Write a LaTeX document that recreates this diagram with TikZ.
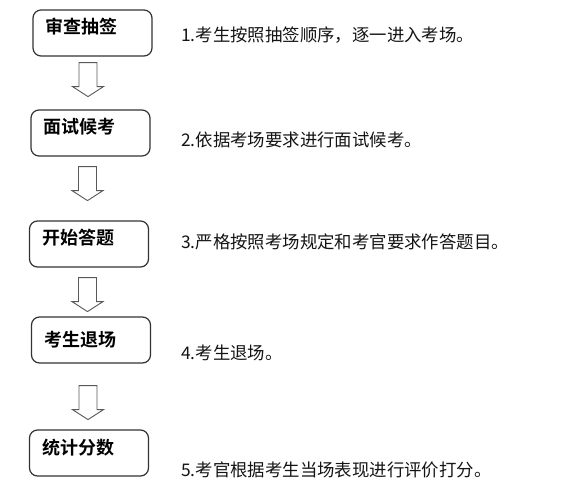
\documentclass[tikz,border=0pt]{standalone}
\usepackage{fontspec}
\newfontfamily\cjk{Noto Sans CJK SC}[BoldFont={Noto Sans CJK SC Bold}]

\begin{document}
\begin{tikzpicture}
[x=1pt,y=-1pt,
  boxDecorate/.style={shape=rectangle,rounded corners=8pt,draw=black!80,line width=1.2pt,minimum width=119pt,minimum height=46pt},%
  labelDecorate/.style={anchor=west,inner sep=0pt,font=\cjk\bfseries\fontsize{18}{20}\selectfont},%
  noteDecorate/.style={anchor=west,inner sep=0pt,text=black!92,font=\cjk\fontsize{17.4}{20}\selectfont},%
  arrowDecorate/.style={draw=black!65,line width=0.9pt,fill=white}]
\useasboundingbox (0,0) rectangle (571,493);
%% boxes with their labels
\foreach \nodename/\x/\y/\dy/\txt in {check/92.5/33/6/审查抽签, wait/90.5/133/6/面试候考,
    answer/89/244/6/开始答题, leave/91/340/0/考生退场, score/89/453/5/统计分数} {
  \node (\nodename) at (\x,\y) [boxDecorate] {};
  \node (\nodename-label) at ([xshift=13pt,yshift=\dy pt]\nodename.west) [labelDecorate] {\txt};
}
%% notes on the right
\foreach \nodename/\y/\txt in {checkNote/35/1.考生按照抽签顺序，逐一进入考场。,
    waitNote/140/2.依据考场要求进行面试候考。,
    answerNote/242/3.严格按照考场规定和考官要求作答题目。,
    leaveNote/353/4.考生退场。,
    scoreNote/470/5.考官根据考生当场表现进行评价打分。} {
  \node (\nodename) at (181,\y) [noteDecorate] {\txt};
}
%% hollow arrows between the boxes
\foreach \startnode/\dx/\dy in {check/-4.5/6, wait/-3/10, answer/-1.5/10, leave/-3/22} {
  \draw[arrowDecorate,shift={([xshift=\dx pt,yshift=-\dy pt]\startnode.south)}]
    (-9,0) -- (9,0) -- (9,24) -- (15.5,24) -- (0,34) -- (-15.5,24) -- (-9,24) -- cycle;
}
\end{tikzpicture}
\end{document}
